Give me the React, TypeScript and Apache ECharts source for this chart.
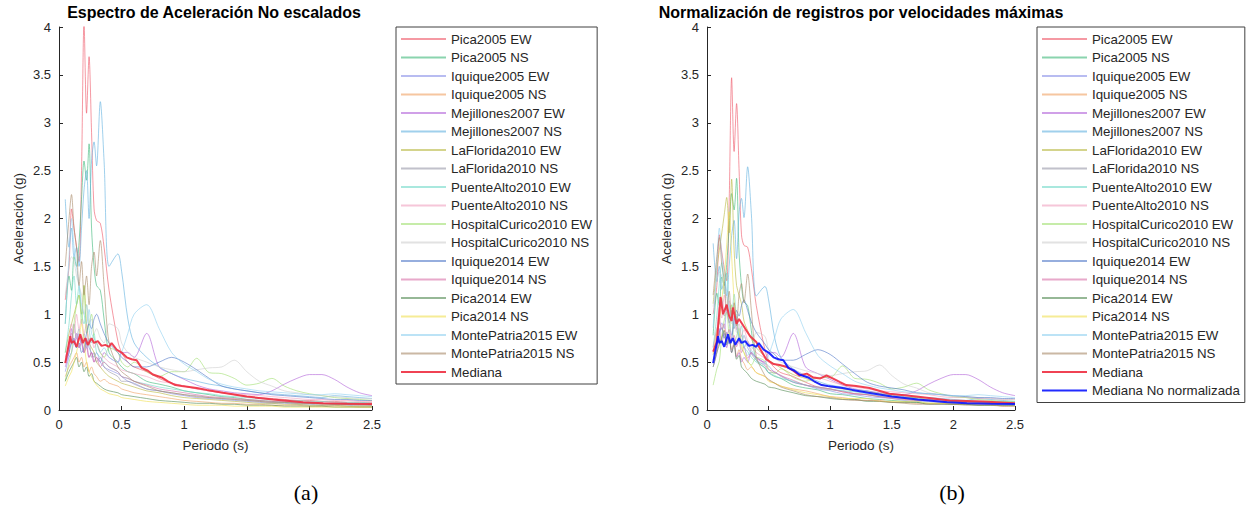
import React, { useEffect, useRef } from "react";
import * as echarts from "echarts";

// Periods (s)
const periods = [0.05, 0.08, 0.1, 0.12, 0.14, 0.16, 0.18, 0.2, 0.22, 0.24, 0.26, 0.28, 0.3, 0.33, 0.36, 0.4, 0.47, 0.5, 0.55, 0.6, 0.7, 0.8, 0.9, 1.0, 1.1, 1.2, 1.3, 1.4, 1.5, 1.6, 1.7, 1.8, 1.9, 2.0, 2.1, 2.2, 2.3, 2.4, 2.5];

const recordNames = [
  "Pica2005 EW", "Pica2005 NS", "Iquique2005 EW", "Iquique2005 NS", "Mejillones2007 EW", "Mejillones2007 NS",
  "LaFlorida2010 EW", "LaFlorida2010 NS", "PuenteAlto2010 EW", "PuenteAlto2010 NS", "HospitalCurico2010 EW",
  "HospitalCurico2010 NS", "Iquique2014 EW", "Iquique2014 NS", "Pica2014 EW", "Pica2014 NS", "MontePatria2015 EW", "MontePatria2015 NS",
];
const recordColors = [
  "#ee5566", "#3cb878", "#8890e8", "#f0a060", "#b060d8", "#60b0e0", "#b8b840", "#9898a8", "#70d8c8",
  "#f0a0c0", "#a0e070", "#cfcfcf", "#5078c8", "#d870a8", "#508850", "#f0e050", "#90d0f0", "#a88868",
];

// (a) Unscaled spectra
const aPica2005EW = [1.15, 1.5, 2.1, 1.9, 1.7, 1.55, 2.5, 4.05, 3.1, 3.69, 2.9, 2.1, 1.98, 1.95, 1.7, 1.25, 0.72, 0.6, 0.5, 0.45, 0.4, 0.33, 0.28, 0.25, 0.22, 0.2, 0.18, 0.16, 0.14, 0.13, 0.12, 0.11, 0.1, 0.1, 0.09, 0.09, 0.08, 0.08, 0.08];
const aPica2005NS = [0.9, 1.4, 1.25, 1.6, 1.5, 1.75, 2.2, 2.6, 2.4, 2.78, 1.9, 1.5, 1.3, 1.25, 0.95, 0.6, 0.5, 0.45, 0.4, 0.38, 0.3, 0.27, 0.24, 0.2, 0.18, 0.16, 0.14, 0.13, 0.11, 0.1, 0.09, 0.08, 0.08, 0.07, 0.07, 0.06, 0.06, 0.06, 0.06];
const aIquique2005EW = [0.4, 0.55, 0.6, 0.7, 0.65, 0.8, 0.7, 0.6, 0.75, 0.65, 0.6, 0.55, 0.6, 0.5, 0.45, 0.42, 0.38, 0.35, 0.3, 0.28, 0.22, 0.2, 0.17, 0.15, 0.13, 0.12, 0.11, 0.1, 0.09, 0.08, 0.07, 0.07, 0.06, 0.06, 0.05, 0.05, 0.05, 0.04, 0.04];
const aIquique2005NS = [0.35, 0.45, 0.5, 0.55, 0.6, 0.5, 0.55, 0.45, 0.5, 0.4, 0.45, 0.38, 0.35, 0.3, 0.32, 0.28, 0.25, 0.22, 0.2, 0.18, 0.16, 0.14, 0.12, 0.1, 0.09, 0.08, 0.07, 0.07, 0.06, 0.06, 0.05, 0.05, 0.05, 0.04, 0.04, 0.04, 0.04, 0.03, 0.03];
const aMejillones2007EW = [0.45, 0.6, 0.85, 0.7, 0.8, 0.65, 0.75, 0.6, 0.7, 0.55, 0.6, 0.5, 0.55, 0.5, 0.6, 0.55, 0.5, 0.6, 0.6, 0.55, 0.8, 0.45, 0.38, 0.32, 0.26, 0.22, 0.2, 0.18, 0.17, 0.16, 0.2, 0.27, 0.33, 0.37, 0.37, 0.32, 0.24, 0.18, 0.15];
const aMejillones2007NS = [2.2, 1.7, 1.9, 1.6, 1.7, 1.5, 1.9, 2.3, 2.5, 2.0, 2.6, 2.8, 2.55, 3.22, 2.6, 1.5, 1.63, 1.45, 0.95, 0.7, 0.55, 0.45, 0.38, 0.33, 0.3, 0.27, 0.25, 0.22, 0.2, 0.18, 0.17, 0.16, 0.15, 0.14, 0.13, 0.15, 0.14, 0.13, 0.12];
const aLaFlorida2010EW = [0.6, 0.8, 0.9, 1.0, 1.1, 1.2, 1.0, 1.3, 0.9, 0.7, 0.65, 0.6, 0.5, 0.45, 0.4, 0.35, 0.3, 0.28, 0.26, 0.24, 0.2, 0.18, 0.15, 0.13, 0.12, 0.11, 0.1, 0.09, 0.08, 0.07, 0.07, 0.06, 0.06, 0.05, 0.05, 0.05, 0.04, 0.04, 0.04];
const aLaFlorida2010NS = [0.5, 0.65, 0.7, 0.9, 0.75, 0.85, 0.7, 0.8, 0.65, 0.75, 0.55, 0.6, 0.5, 0.55, 0.45, 0.4, 0.35, 0.3, 0.3, 0.27, 0.22, 0.2, 0.18, 0.16, 0.15, 0.13, 0.12, 0.11, 0.1, 0.09, 0.08, 0.08, 0.07, 0.07, 0.07, 0.06, 0.06, 0.06, 0.05];
const aPuenteAlto2010EW = [0.6, 0.9, 1.2, 1.4, 1.1, 1.3, 1.0, 0.9, 1.1, 0.85, 0.7, 0.8, 0.6, 0.55, 0.5, 0.45, 0.4, 0.35, 0.33, 0.3, 0.27, 0.24, 0.22, 0.2, 0.18, 0.17, 0.15, 0.14, 0.13, 0.12, 0.11, 0.1, 0.1, 0.09, 0.09, 0.08, 0.08, 0.08, 0.07];
const aPuenteAlto2010NS = [0.55, 0.7, 0.9, 0.8, 1.0, 0.85, 0.95, 0.8, 0.9, 0.7, 0.75, 0.65, 0.7, 0.6, 0.55, 0.5, 0.45, 0.42, 0.4, 0.38, 0.35, 0.3, 0.28, 0.25, 0.22, 0.2, 0.18, 0.17, 0.16, 0.15, 0.14, 0.13, 0.12, 0.11, 0.11, 0.1, 0.1, 0.09, 0.09];
const aHospitalCurico2010EW = [0.3, 0.5, 0.6, 0.9, 1.1, 1.2, 0.9, 1.3, 0.8, 0.9, 1.0, 0.75, 0.7, 0.6, 0.55, 0.65, 0.6, 0.5, 0.45, 0.5, 0.4, 0.35, 0.4, 0.4, 0.54, 0.39, 0.38, 0.33, 0.26, 0.28, 0.33, 0.25, 0.2, 0.17, 0.15, 0.13, 0.12, 0.11, 0.1];
const aHospitalCurico2010NS = [1.2, 1.5, 1.6, 1.55, 1.4, 1.3, 1.2, 1.0, 1.1, 0.9, 0.95, 0.8, 0.85, 0.75, 0.7, 0.9, 0.85, 0.7, 0.6, 0.55, 0.5, 0.45, 0.42, 0.4, 0.42, 0.44, 0.45, 0.52, 0.4, 0.3, 0.25, 0.2, 0.18, 0.16, 0.15, 0.14, 0.13, 0.12, 0.12];
const aIquique2014EW = [0.5, 0.6, 0.7, 0.75, 0.65, 0.7, 0.6, 0.65, 0.8, 0.9, 0.85, 0.95, 1.0, 0.9, 0.8, 0.7, 0.6, 0.55, 0.5, 0.45, 0.45, 0.5, 0.55, 0.5, 0.42, 0.33, 0.25, 0.22, 0.2, 0.18, 0.16, 0.15, 0.14, 0.13, 0.12, 0.11, 0.11, 0.1, 0.1];
const aIquique2014NS = [0.5, 0.65, 0.8, 0.7, 0.75, 0.65, 0.7, 0.6, 0.65, 0.55, 0.6, 0.5, 0.55, 0.45, 0.5, 0.45, 0.4, 0.35, 0.33, 0.3, 0.26, 0.22, 0.2, 0.18, 0.16, 0.14, 0.13, 0.12, 0.11, 0.1, 0.09, 0.09, 0.08, 0.08, 0.07, 0.07, 0.07, 0.06, 0.06];
const aPica2014EW = [0.3, 0.4, 0.45, 0.5, 0.55, 0.45, 0.5, 0.4, 0.45, 0.35, 0.38, 0.3, 0.28, 0.25, 0.22, 0.2, 0.18, 0.16, 0.15, 0.14, 0.12, 0.1, 0.09, 0.08, 0.07, 0.07, 0.06, 0.06, 0.05, 0.05, 0.05, 0.04, 0.04, 0.04, 0.04, 0.03, 0.03, 0.03, 0.03];
const aPica2014NS = [0.25, 0.35, 0.4, 0.5, 0.6, 0.75, 0.9, 0.7, 0.5, 0.4, 0.35, 0.3, 0.26, 0.22, 0.2, 0.17, 0.15, 0.13, 0.12, 0.11, 0.09, 0.08, 0.07, 0.06, 0.05, 0.05, 0.05, 0.04, 0.04, 0.04, 0.04, 0.03, 0.03, 0.03, 0.03, 0.03, 0.03, 0.03, 0.03];
const aMontePatria2015EW = [0.9, 1.6, 2.0, 1.7, 1.5, 1.3, 1.1, 1.0, 0.9, 1.05, 0.8, 0.75, 0.7, 0.6, 0.65, 0.55, 0.5, 0.6, 0.8, 1.0, 1.1, 0.85, 0.6, 0.48, 0.4, 0.32, 0.27, 0.24, 0.22, 0.2, 0.19, 0.18, 0.17, 0.16, 0.16, 0.17, 0.16, 0.15, 0.14];
const aMontePatria2015NS = [1.5, 2.0, 2.25, 1.9, 1.7, 1.3, 1.55, 1.2, 1.4, 1.1, 1.5, 1.65, 1.4, 1.77, 1.3, 0.7, 0.45, 0.4, 0.35, 0.3, 0.25, 0.2, 0.18, 0.16, 0.14, 0.13, 0.12, 0.11, 0.1, 0.09, 0.08, 0.08, 0.07, 0.07, 0.06, 0.06, 0.06, 0.05, 0.05];

// (b) Spectra normalized by peak velocity
const bPica2005EW = [1.0, 1.3, 1.83, 1.65, 1.48, 1.35, 2.18, 3.47, 2.7, 3.2, 2.52, 1.83, 1.72, 1.7, 1.48, 1.09, 0.63, 0.52, 0.44, 0.39, 0.35, 0.29, 0.24, 0.22, 0.19, 0.17, 0.16, 0.14, 0.12, 0.11, 0.1, 0.1, 0.09, 0.09, 0.08, 0.08, 0.07, 0.07, 0.07];
const bPica2005NS = [0.78, 1.22, 1.09, 1.39, 1.3, 1.52, 1.91, 2.26, 2.09, 2.42, 1.65, 1.3, 1.13, 1.09, 0.83, 0.52, 0.44, 0.39, 0.35, 0.33, 0.26, 0.23, 0.21, 0.17, 0.16, 0.14, 0.12, 0.11, 0.1, 0.09, 0.08, 0.07, 0.07, 0.06, 0.06, 0.05, 0.05, 0.05, 0.05];
const bIquique2005EW = [0.52, 0.72, 0.78, 0.91, 0.85, 1.04, 0.91, 0.78, 0.98, 0.85, 0.78, 0.72, 0.78, 0.65, 0.59, 0.55, 0.49, 0.46, 0.39, 0.36, 0.29, 0.26, 0.22, 0.2, 0.17, 0.16, 0.14, 0.13, 0.12, 0.1, 0.09, 0.09, 0.08, 0.08, 0.07, 0.07, 0.07, 0.05, 0.05];
const bIquique2005NS = [0.49, 0.63, 0.7, 0.77, 0.84, 0.7, 0.77, 0.63, 0.7, 0.56, 0.63, 0.53, 0.49, 0.42, 0.45, 0.39, 0.35, 0.31, 0.28, 0.25, 0.22, 0.2, 0.17, 0.14, 0.13, 0.11, 0.1, 0.1, 0.08, 0.08, 0.07, 0.07, 0.07, 0.06, 0.06, 0.06, 0.06, 0.04, 0.04];
const bMejillones2007EW = [0.45, 0.6, 0.85, 0.7, 0.8, 0.65, 0.75, 0.6, 0.7, 0.55, 0.6, 0.5, 0.55, 0.5, 0.6, 0.55, 0.5, 0.6, 0.6, 0.55, 0.8, 0.45, 0.38, 0.32, 0.26, 0.22, 0.2, 0.18, 0.17, 0.16, 0.2, 0.27, 0.33, 0.37, 0.37, 0.32, 0.24, 0.18, 0.15];
const bMejillones2007NS = [1.74, 1.34, 1.5, 1.26, 1.34, 1.19, 1.5, 1.82, 1.98, 1.58, 2.05, 2.21, 2.01, 2.54, 2.05, 1.19, 1.29, 1.15, 0.75, 0.55, 0.43, 0.36, 0.3, 0.26, 0.24, 0.21, 0.2, 0.17, 0.16, 0.14, 0.13, 0.13, 0.12, 0.11, 0.1, 0.12, 0.11, 0.1, 0.09];
const bLaFlorida2010EW = [1.11, 1.48, 1.67, 1.85, 2.04, 2.22, 1.85, 2.41, 1.67, 1.3, 1.2, 1.11, 0.93, 0.83, 0.74, 0.65, 0.56, 0.52, 0.48, 0.44, 0.37, 0.33, 0.28, 0.24, 0.22, 0.2, 0.19, 0.17, 0.15, 0.13, 0.13, 0.11, 0.11, 0.09, 0.09, 0.09, 0.07, 0.07, 0.07];
const bLaFlorida2010NS = [0.65, 0.85, 0.91, 1.17, 0.98, 1.1, 0.91, 1.04, 0.85, 0.98, 0.72, 0.78, 0.65, 0.72, 0.59, 0.52, 0.46, 0.39, 0.39, 0.35, 0.29, 0.26, 0.23, 0.21, 0.2, 0.17, 0.16, 0.14, 0.13, 0.12, 0.1, 0.1, 0.09, 0.09, 0.09, 0.08, 0.08, 0.08, 0.07];
const bPuenteAlto2010EW = [0.66, 0.99, 1.32, 1.54, 1.21, 1.43, 1.1, 0.99, 1.21, 0.94, 0.77, 0.88, 0.66, 0.61, 0.55, 0.5, 0.44, 0.39, 0.36, 0.33, 0.3, 0.26, 0.24, 0.22, 0.2, 0.19, 0.17, 0.15, 0.14, 0.13, 0.12, 0.11, 0.11, 0.1, 0.1, 0.09, 0.09, 0.09, 0.08];
const bPuenteAlto2010NS = [0.66, 0.84, 1.08, 0.96, 1.2, 1.02, 1.14, 0.96, 1.08, 0.84, 0.9, 0.78, 0.84, 0.72, 0.66, 0.6, 0.54, 0.5, 0.48, 0.46, 0.42, 0.36, 0.34, 0.3, 0.26, 0.24, 0.22, 0.2, 0.19, 0.18, 0.17, 0.16, 0.14, 0.13, 0.13, 0.12, 0.12, 0.11, 0.11];
const bHospitalCurico2010EW = [0.26, 0.43, 0.51, 0.77, 0.94, 1.02, 0.77, 1.1, 0.68, 0.77, 0.85, 0.64, 0.6, 0.51, 0.47, 0.55, 0.51, 0.43, 0.38, 0.43, 0.34, 0.3, 0.34, 0.34, 0.46, 0.33, 0.32, 0.28, 0.22, 0.24, 0.28, 0.21, 0.17, 0.14, 0.13, 0.11, 0.1, 0.09, 0.09];
const bHospitalCurico2010NS = [1.08, 1.35, 1.44, 1.4, 1.26, 1.17, 1.08, 0.9, 0.99, 0.81, 0.86, 0.72, 0.77, 0.68, 0.63, 0.81, 0.77, 0.63, 0.54, 0.5, 0.45, 0.41, 0.38, 0.36, 0.38, 0.4, 0.41, 0.47, 0.36, 0.27, 0.23, 0.18, 0.16, 0.14, 0.14, 0.13, 0.12, 0.11, 0.11];
const bIquique2014EW = [0.58, 0.69, 0.81, 0.86, 0.75, 0.81, 0.69, 0.75, 0.92, 1.04, 0.98, 1.09, 1.15, 1.04, 0.92, 0.81, 0.69, 0.63, 0.58, 0.52, 0.52, 0.58, 0.63, 0.58, 0.48, 0.38, 0.29, 0.25, 0.23, 0.21, 0.18, 0.17, 0.16, 0.15, 0.14, 0.13, 0.13, 0.12, 0.12];
const bIquique2014NS = [0.6, 0.78, 0.96, 0.84, 0.9, 0.78, 0.84, 0.72, 0.78, 0.66, 0.72, 0.6, 0.66, 0.54, 0.6, 0.54, 0.48, 0.42, 0.4, 0.36, 0.31, 0.26, 0.24, 0.22, 0.19, 0.17, 0.16, 0.14, 0.13, 0.12, 0.11, 0.11, 0.1, 0.1, 0.08, 0.08, 0.08, 0.07, 0.07];
const bPica2014EW = [0.45, 0.6, 0.68, 0.75, 0.83, 0.68, 0.75, 0.6, 0.68, 0.53, 0.57, 0.45, 0.42, 0.38, 0.33, 0.3, 0.27, 0.24, 0.23, 0.21, 0.18, 0.15, 0.14, 0.12, 0.11, 0.11, 0.09, 0.09, 0.08, 0.08, 0.08, 0.06, 0.06, 0.06, 0.06, 0.05, 0.05, 0.05, 0.05];
const bPica2014NS = [0.58, 0.81, 0.92, 1.15, 1.38, 1.73, 2.07, 1.61, 1.15, 0.92, 0.81, 0.69, 0.6, 0.51, 0.46, 0.39, 0.35, 0.3, 0.28, 0.25, 0.21, 0.18, 0.16, 0.14, 0.12, 0.12, 0.12, 0.09, 0.09, 0.09, 0.09, 0.07, 0.07, 0.07, 0.07, 0.07, 0.07, 0.07, 0.07];
const bMontePatria2015EW = [0.86, 1.52, 1.9, 1.62, 1.43, 1.24, 1.05, 0.95, 0.86, 1.0, 0.76, 0.71, 0.67, 0.57, 0.62, 0.52, 0.48, 0.57, 0.76, 0.95, 1.05, 0.81, 0.57, 0.46, 0.38, 0.3, 0.26, 0.23, 0.21, 0.19, 0.18, 0.17, 0.16, 0.15, 0.15, 0.16, 0.15, 0.14, 0.13];
const bMontePatria2015NS = [1.2, 1.6, 1.8, 1.52, 1.36, 1.04, 1.24, 0.96, 1.12, 0.88, 1.2, 1.32, 1.12, 1.42, 1.04, 0.56, 0.36, 0.32, 0.28, 0.24, 0.2, 0.16, 0.14, 0.13, 0.11, 0.1, 0.1, 0.09, 0.08, 0.07, 0.06, 0.06, 0.06, 0.06, 0.05, 0.05, 0.05, 0.04, 0.04];

// Medians
const medianAPeriods = [0.05, 0.07, 0.09, 0.1, 0.12, 0.14, 0.17, 0.19, 0.21, 0.23, 0.26, 0.28, 0.31, 0.34, 0.37, 0.4, 0.42, 0.46, 0.5, 0.54, 0.58, 0.62, 0.66, 0.71, 0.75, 0.82, 0.87, 0.93, 0.98, 1.04, 1.1, 1.18, 1.31, 1.5, 1.71, 1.95, 2.11, 2.3, 2.5];
const medianAValues = [0.49, 0.63, 0.77, 0.7, 0.72, 0.66, 0.79, 0.7, 0.75, 0.68, 0.75, 0.7, 0.72, 0.67, 0.68, 0.66, 0.7, 0.63, 0.6, 0.55, 0.53, 0.52, 0.44, 0.41, 0.37, 0.34, 0.3, 0.26, 0.25, 0.24, 0.23, 0.21, 0.18, 0.14, 0.11, 0.08, 0.07, 0.065, 0.063];
const medianBPeriods = [0.05, 0.08, 0.11, 0.13, 0.16, 0.18, 0.2, 0.21, 0.24, 0.26, 0.29, 0.35, 0.4, 0.44, 0.48, 0.54, 0.59, 0.65, 0.7, 0.75, 0.81, 0.86, 0.92, 0.97, 1.02, 1.08, 1.13, 1.21, 1.32, 1.48, 1.7, 1.97, 2.24, 2.5];
const medianBValues = [0.61, 0.71, 1.18, 1.0, 1.1, 0.98, 0.93, 1.07, 0.9, 0.95, 0.89, 0.77, 0.71, 0.62, 0.53, 0.48, 0.47, 0.45, 0.41, 0.36, 0.38, 0.34, 0.33, 0.36, 0.33, 0.29, 0.26, 0.25, 0.23, 0.17, 0.14, 0.1, 0.09, 0.07];

const spectraA = [aPica2005EW, aPica2005NS, aIquique2005EW, aIquique2005NS, aMejillones2007EW, aMejillones2007NS, aLaFlorida2010EW, aLaFlorida2010NS, aPuenteAlto2010EW, aPuenteAlto2010NS, aHospitalCurico2010EW, aHospitalCurico2010NS, aIquique2014EW, aIquique2014NS, aPica2014EW, aPica2014NS, aMontePatria2015EW, aMontePatria2015NS];
const spectraB = [bPica2005EW, bPica2005NS, bIquique2005EW, bIquique2005NS, bMejillones2007EW, bMejillones2007NS, bLaFlorida2010EW, bLaFlorida2010NS, bPuenteAlto2010EW, bPuenteAlto2010NS, bHospitalCurico2010EW, bHospitalCurico2010NS, bIquique2014EW, bIquique2014NS, bPica2014EW, bPica2014NS, bMontePatria2015EW, bMontePatria2015NS];

const xTicks = { min: 0, max: 2.5, interval: 0.5 };
const yTicks = { min: 0, max: 4, interval: 0.5 };

const FONT = "'Liberation Sans', Arial, Helvetica, sans-serif";
const AX = "#262626";

function makeAxes(idx: number) {
  const common = {
    gridIndex: idx,
    type: "value" as const,
    axisLine: { show: true, lineStyle: { color: AX, width: 1 } },
    axisTick: { show: true, inside: true, length: 4, lineStyle: { color: AX } },
    splitLine: { show: false },
    axisLabel: { color: AX, fontFamily: FONT, fontSize: 13, margin: 8, formatter: (v: number) => String(v) },
    nameLocation: "middle" as const,
    nameTextStyle: { color: AX, fontFamily: FONT, fontSize: 13.5 },
  };
  return {
    x: { ...common, ...xTicks, name: "Periodo (s)", nameGap: 28 },
    y: { ...common, ...yTicks, name: "Aceleración (g)", nameGap: 34 },
  };
}

export default function App() {
  const ref = useRef<HTMLDivElement>(null);
  useEffect(() => {
    if (!ref.current) return;
    const chart = echarts.init(ref.current, undefined, { renderer: "svg" });
    const axA = makeAxes(0);
    const axB = makeAxes(1);
    const series: any[] = [];
    const thin = (name: string, color: string, vals: number[], idx: number) => ({
      type: "line",
      name,
      xAxisIndex: idx,
      yAxisIndex: idx,
      data: periods.map((t, i) => [t, vals[i]]),
      symbol: "none",
      smooth: 0.3,
      lineStyle: { color, width: 1, opacity: 0.6 },
      itemStyle: { color, opacity: 0.6 },
      z: 2,
    });
    recordNames.forEach((n, i) => series.push(thin(n, recordColors[i], spectraA[i], 0)));
    recordNames.forEach((n, i) => series.push(thin(n, recordColors[i], spectraB[i], 1)));
    const thick = (name: string, color: string, xs: number[], ys: number[], idx: number, z: number) => ({
      type: "line",
      name,
      xAxisIndex: idx,
      yAxisIndex: idx,
      data: xs.map((t, i) => [t, ys[i]]),
      symbol: "none",
      lineStyle: { color, width: 2, opacity: 0.9 },
      itemStyle: { color, opacity: 0.9 },
      z,
    });
    series.push(thick("Mediana", "#ee2e40", medianAPeriods, medianAValues, 0, 5));
    series.push(thick("Mediana", "#ee2e40", medianBPeriods, medianBValues, 1, 5));
    series.push(thick("Mediana No normalizada", "#0a14ff", medianAPeriods, medianAValues, 1, 6));

    const legendBase = {
      orient: "vertical" as const,
      top: 27,
      itemWidth: 45,
      itemHeight: 2,
      itemGap: 4.5,
      padding: [5, 5, 5, 4],
      borderColor: "#404040",
      borderWidth: 1,
      backgroundColor: "#fff",
      selectedMode: false,
      itemStyle: { opacity: 0 },
      textStyle: { fontFamily: FONT, fontSize: 13.3, color: AX, lineHeight: 14 },
    };

    chart.setOption({
      animation: false,
      backgroundColor: "#fff",
      grid: [
        { left: 59, top: 27, width: 313, height: 383 },
        { left: 707, top: 27, width: 308, height: 383 },
      ],
      xAxis: [axA.x, axB.x],
      yAxis: [axA.y, axB.y],
      legend: [
        { ...legendBase, left: 396, data: [...recordNames, "Mediana"] },
        { ...legendBase, left: 1037, data: [...recordNames, "Mediana", "Mediana No normalizada"] },
      ],
      graphic: [
        { type: "text", x: 214, y: 12, style: { text: "Espectro de Aceleración No escalados", fontFamily: FONT, fontSize: 16, fontWeight: "bold", fill: "#000", align: "center", verticalAlign: "middle" } },
        { type: "text", x: 861, y: 12, style: { text: "Normalización de registros por velocidades máximas", fontFamily: FONT, fontSize: 16, fontWeight: "bold", fill: "#000", align: "center", verticalAlign: "middle" } },
        { type: "text", x: 306, y: 492, style: { text: "(a)", fontFamily: "'Liberation Serif', 'DejaVu Serif', serif", fontSize: 22, fill: "#000", align: "center", verticalAlign: "middle" } },
        { type: "text", x: 952, y: 492, style: { text: "(b)", fontFamily: "'Liberation Serif', 'DejaVu Serif', serif", fontSize: 22, fill: "#000", align: "center", verticalAlign: "middle" } },
      ],
      series,
    });
    return () => chart.dispose();
  }, []);
  return <div ref={ref} style={{ position: "absolute", left: 0, top: 0, width: 1249, height: 510 }} />;
}
